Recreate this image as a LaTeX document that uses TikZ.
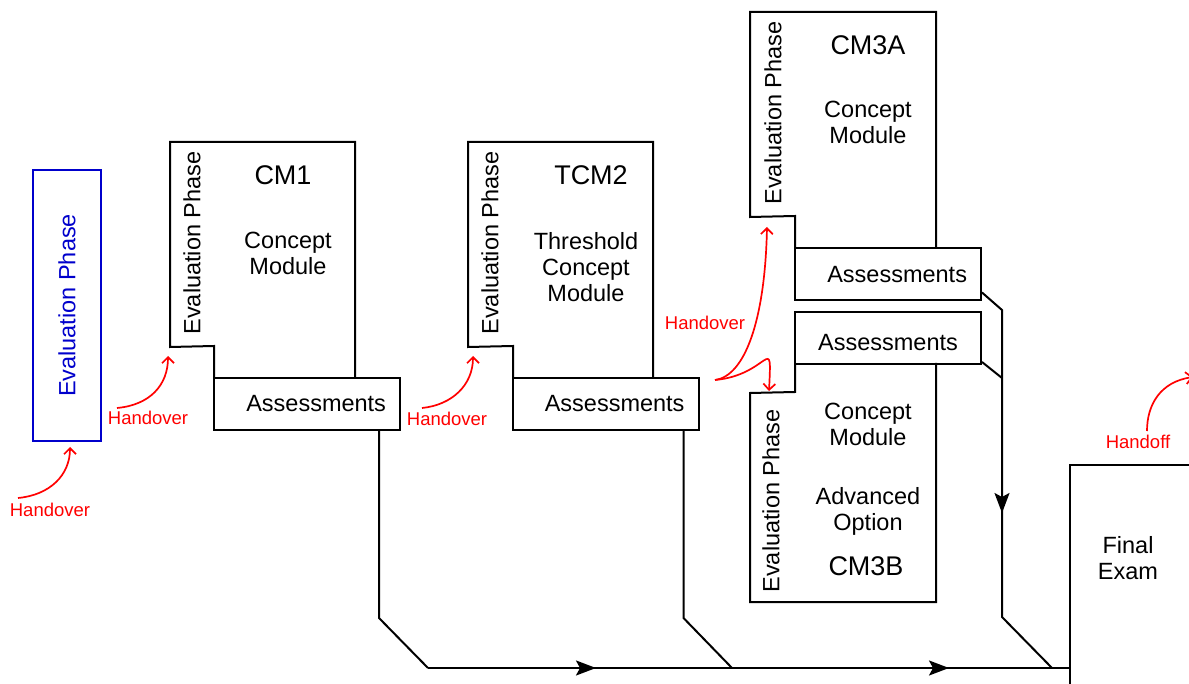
\documentclass[tikz,border=0pt]{standalone}
\usepackage{fontspec}
\setmainfont{Liberation Sans}
\usetikzlibrary{arrows.meta,calc,decorations.markings}
\definecolor{evblue}{RGB}{0,0,204}
\definecolor{hred}{RGB}{255,0,0}
\newcommand\fsB{\fontsize{23.5}{26}\selectfont}
\newcommand\fsT{\fontsize{27}{30}\selectfont}
\newcommand\fsR{\fontsize{18.5}{20}\selectfont}
\tikzset{
  modline/.style={draw, line width=2pt, line join=miter},
  assess/.style={draw, line width=2pt, minimum height=52pt, inner ysep=0pt, font=\fsB},
  assessR/.style={assess, text width=158pt, align=right, inner xsep=14pt},
  assessC/.style={assess, minimum width=186pt, inner xsep=0pt},
  evlabel/.style={rotate=90, font=\fsB, inner sep=0pt},
  evbox/.style={draw=evblue, text=evblue, line width=2pt, rotate=90, font=\fsB,
                minimum width=271pt, minimum height=68pt, inner sep=0pt},
  title/.style={font=\fsT, inner sep=0pt},
  body/.style={font=\fsB, align=center, inner sep=0pt},
  hlabel/.style={font=\fsR, text=hred, inner sep=0pt},
  handarrow/.style={draw=hred, line width=1.7pt, -{Straight Barb[length=6pt,width=12pt]}},
  flow/.style={draw, line width=2pt, line join=miter},
  bigtip/.style={-{Stealth[length=20pt,width=15pt,inset=4pt]}},
  finalbox/.style={draw, line width=2pt, minimum width=140pt, minimum height=240pt, inner sep=0pt, anchor=north west}
}
\begin{document}
\begin{tikzpicture}[x=1pt,y=-1pt]
\path[fill=white] (0,0) rectangle (1189,684);
\useasboundingbox (0,0) rectangle (1189,684);

% blue evaluation phase
\node[evbox] (ep) at (67,305.5) {Evaluation Phase};

% CM1
\draw[modline] (214,378) -- (214,346) -- (170,347) -- (170,142) -- (355,142) -- (355,378);
\node[assessR] (a1) at (307,404) {Assessments};
\node[evlabel] (e1) at (192,243) {Evaluation Phase};
\node[title] (t1) at (283,175) {CM1};
\node[body] (b1) at (288,253) {Concept\\Module};

% TCM2
\draw[modline] (513,378) -- (513,346) -- (468,347) -- (468,142) -- (653,142) -- (653,378);
\node[assessR] (a2) at (605.5,404) {Assessments};
\node[evlabel] (e2) at (490,243) {Evaluation Phase};
\node[title] (t2) at (591,175) {TCM2};
\node[body] (b2) at (586,267) {Threshold\\Concept\\Module};

% CM3A
\draw[modline] (795,249) -- (795,216) -- (750,217) -- (750,12) -- (936,12) -- (936,249);
\node[assessR] (a3a) at (888,274.5) {Assessments};
\node[evlabel] (e3a) at (773,113) {Evaluation Phase};
\node[title] (t3a) at (868,45) {CM3A};
\node[body] (b3a) at (868,122) {Concept\\Module};

% CM3B
\draw[modline] (795,363) -- (795,392) -- (750,393) -- (750,602) -- (936,602) -- (936,363);
\node[assessC] (a3b) at (888,338) {\raisebox{-13pt}[0pt][0pt]{Assessments}};
\node[evlabel] (e3b) at (771,501) {Evaluation Phase};
\node[body] (b3b) at (868,424) {Concept\\Module};
\node[body] (o3b) at (868,511) {Advanced\\Option};
\node[title] (t3b) at (866,566) {CM3B};

% Final exam
\node[finalbox] (fe) at (1069,464) {};
\node[body] (fet) at (1128,558) {Final\\Exam};

% flow connectors
\coordinate (j1) at (428,668);
\coordinate (j2) at (732,668);
\coordinate (j3) at (1052,668);
\draw[flow] (a1.south east) ++(-22,0) -- ++(0,187) -- (j1);
\draw[flow] (a2.south east) ++(-16,0) -- ++(0,187) -- (j2);
\draw[flow] ($(a3a.south east)+(0,-9)$) -- (1002,310) -- (1002,617) -- (j3);
\draw[flow] ($(a3b.south east)+(0,-3)$) -- (1002,378);
\draw[flow] (j1) -- (fe.west |- j1);
\draw[flow, bigtip] (j1) -- (596,668);
\draw[flow, bigtip] (j2) -- (949,668);
\draw[flow, bigtip] (1002,378) -- (1002,513);

% handover arrows
\node[hlabel] (h1) at (50,510) {Handover};
\coordinate (n0) at (70,447);
\draw[handarrow] (18,498) .. controls (50,495) and (70,475) .. (n0);
\node[hlabel] (h2) at (148,418) {Handover};
\coordinate (n1) at (168,356);
\draw[handarrow] (117,408) .. controls (150,405) and (168,385) .. (n1);
\node[hlabel] (h3) at (447,419) {Handover};
\coordinate (n2) at (473,356);
\draw[handarrow] (422,408) .. controls (452,405) and (473,385) .. (n2);
\node[hlabel] (h4) at (705,323) {Handover};
\coordinate (hs) at (715,380);
\coordinate (n3a) at (767,227);
\coordinate (n3b) at (769,391);
\draw[handarrow] (hs) .. controls (745,376) and (765,320) .. (n3a);
\draw[handarrow] (hs) .. controls (770,375) and (772,330) .. (n3b);
\node[hlabel] (h5) at (1138,442) {Handoff};
\coordinate (nx) at (1193,377);
\draw[handarrow] (1147,431) .. controls (1147,405) and (1160,382) .. (nx);
\end{tikzpicture}
\end{document}
